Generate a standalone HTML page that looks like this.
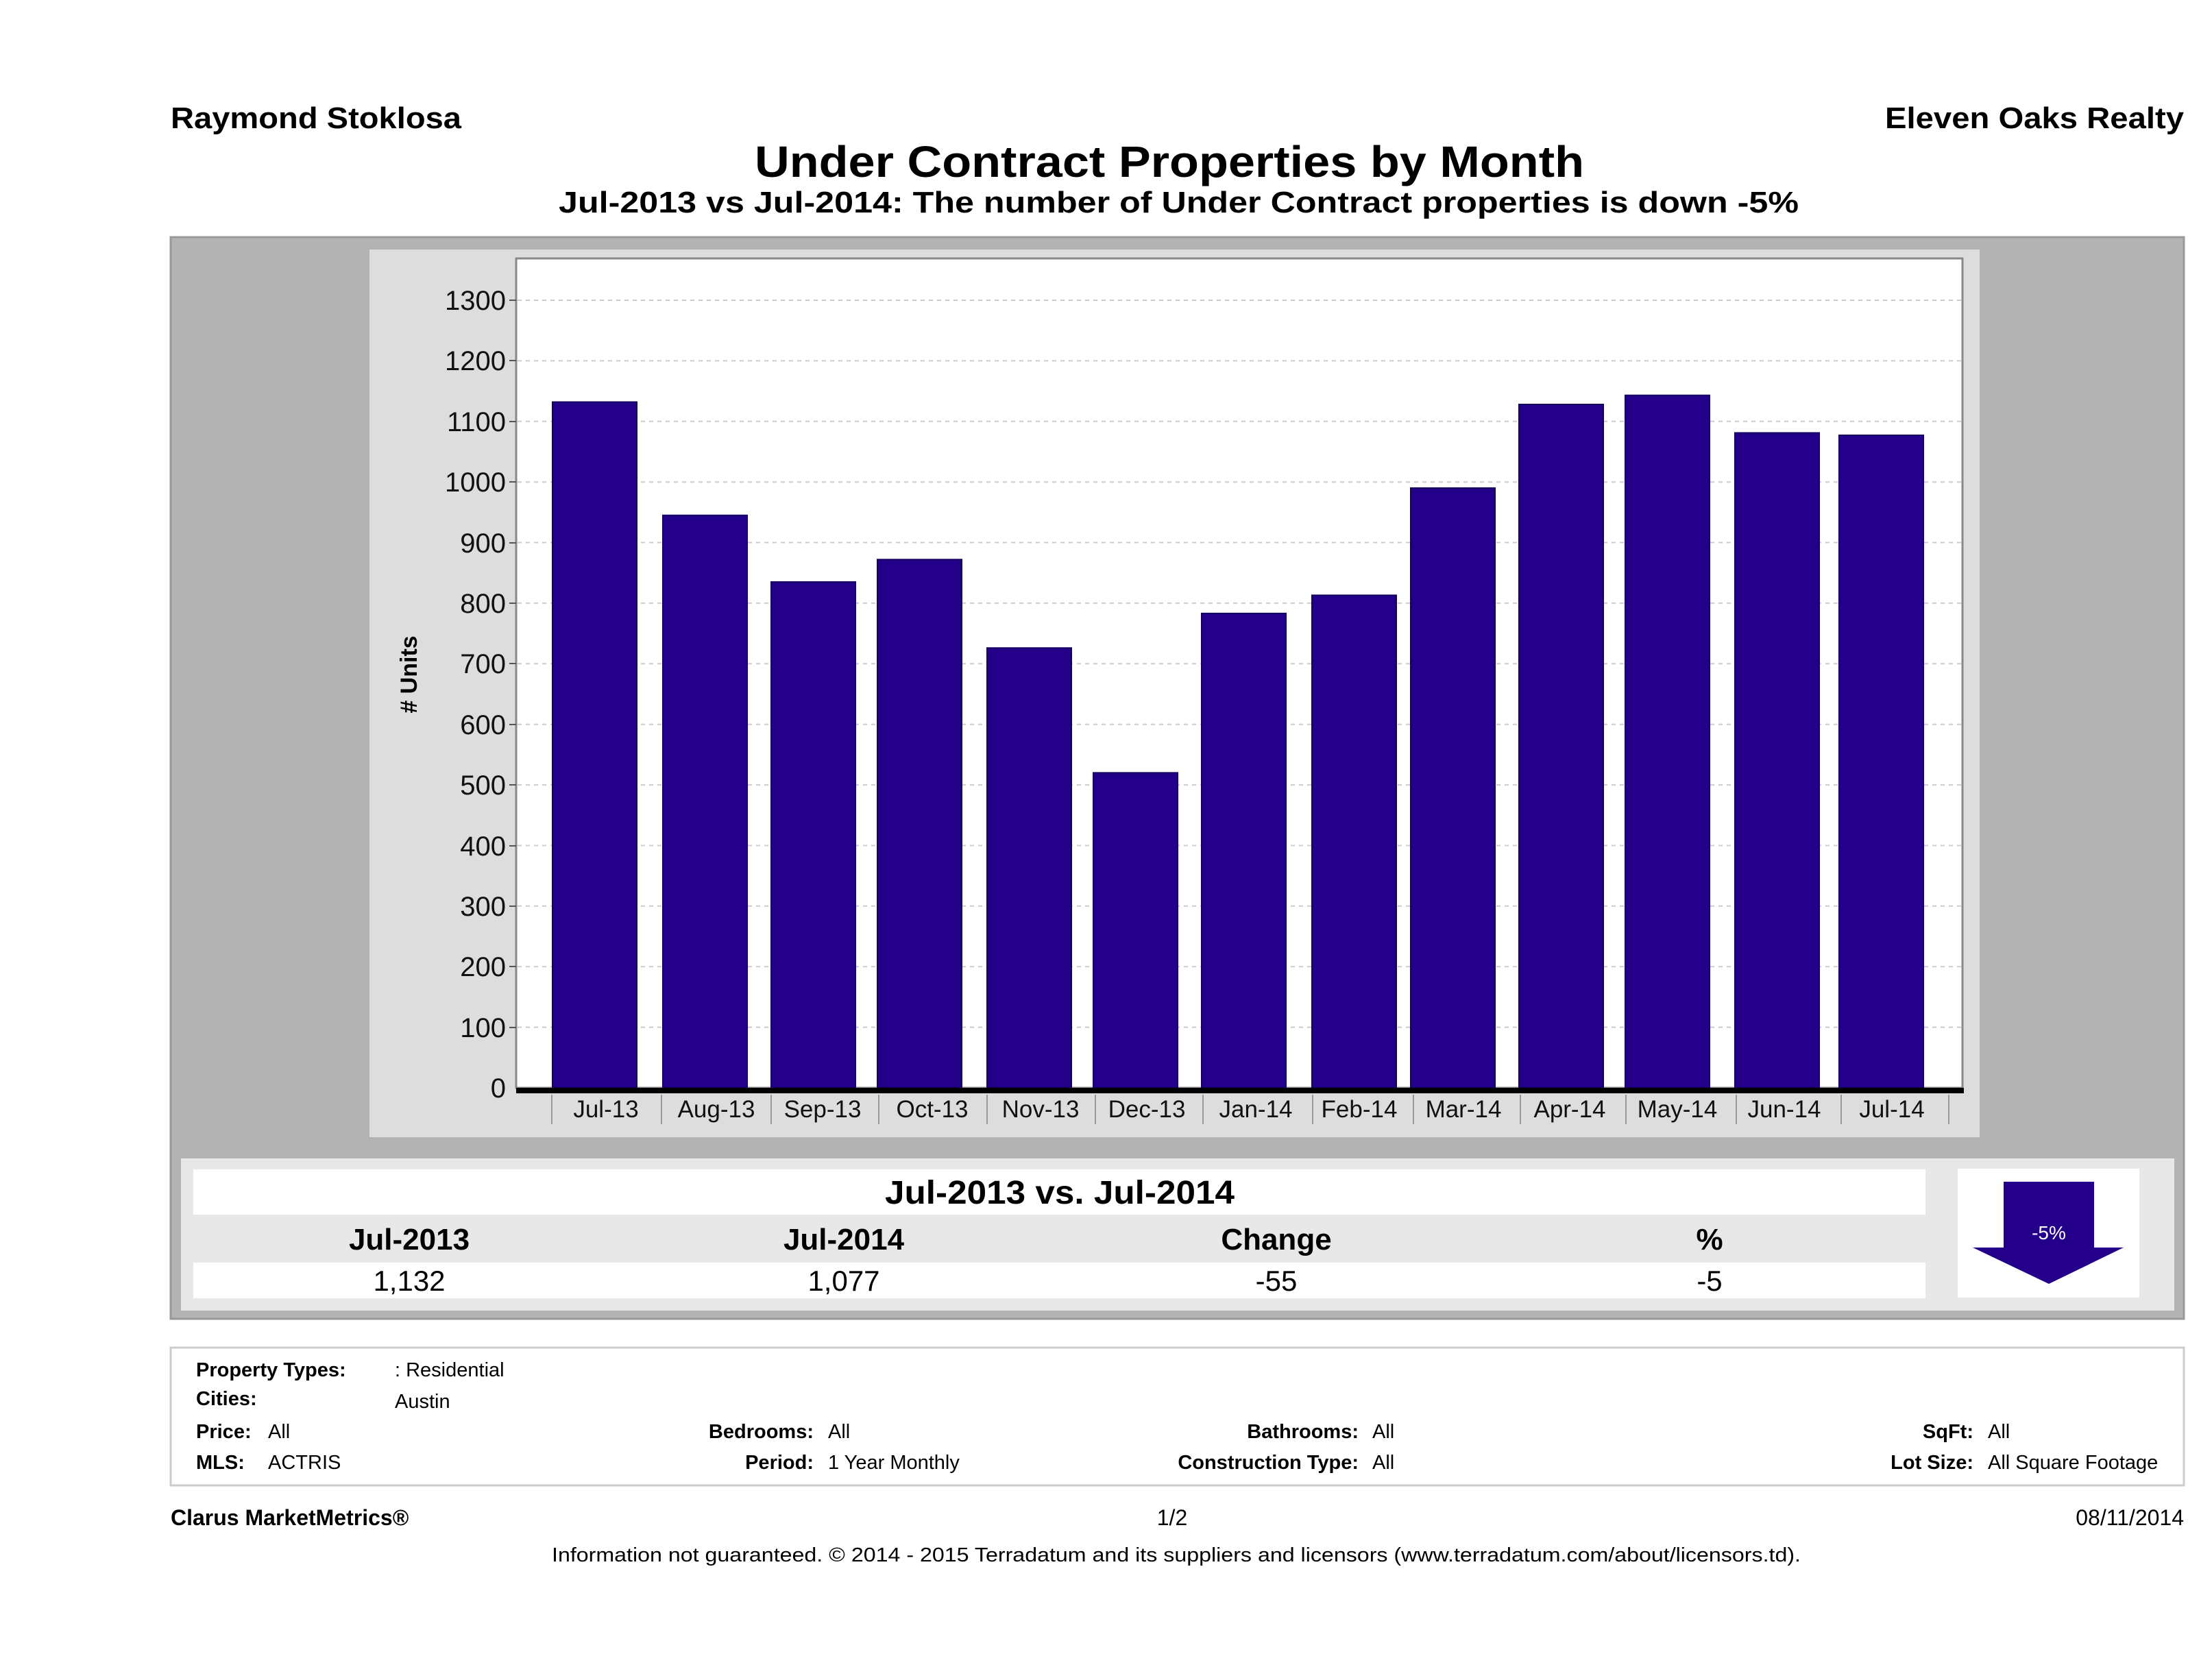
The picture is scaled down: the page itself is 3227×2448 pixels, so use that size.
<!DOCTYPE html>
<html><head><meta charset="utf-8"><style>html,body{margin:0;padding:0;background:#fff}svg{display:block}</style></head><body>
<svg width="3227" height="2448" viewBox="0 0 3227 2448" xmlns="http://www.w3.org/2000/svg" font-family="Liberation Sans, DejaVu Sans, sans-serif">
<rect width="3227" height="2448" fill="#fff"/>
<text x="249" y="187" font-size="44" font-weight="bold" textLength="424" lengthAdjust="spacingAndGlyphs">Raymond Stoklosa</text>
<text x="3186" y="187" font-size="44" font-weight="bold" text-anchor="end" textLength="436" lengthAdjust="spacingAndGlyphs">Eleven Oaks Realty</text>
<text x="1101" y="258" font-size="64" font-weight="bold" textLength="1210" lengthAdjust="spacingAndGlyphs">Under Contract Properties by Month</text>
<text x="815" y="310" font-size="44" font-weight="bold" textLength="1809" lengthAdjust="spacingAndGlyphs">Jul-2013 vs Jul-2014: The number of Under Contract  properties is down -5%</text>
<rect x="249" y="346" width="2937" height="1578" fill="#b3b3b3" stroke="#999" stroke-width="3"/>
<rect x="539" y="364" width="2349" height="1295" fill="#dddddd"/>
<rect x="753" y="377" width="2110" height="1210" fill="#fff" stroke="#888" stroke-width="3"/>
<g stroke="#ccc" stroke-width="2" stroke-dasharray="6,6">
<line x1="755" x2="2861" y1="438" y2="438"/><line x1="755" x2="2861" y1="526.4" y2="526.4"/><line x1="755" x2="2861" y1="614.8" y2="614.8"/><line x1="755" x2="2861" y1="703.2" y2="703.2"/><line x1="755" x2="2861" y1="791.5" y2="791.5"/><line x1="755" x2="2861" y1="879.9" y2="879.9"/><line x1="755" x2="2861" y1="968.3" y2="968.3"/><line x1="755" x2="2861" y1="1056.7" y2="1056.7"/><line x1="755" x2="2861" y1="1145.1" y2="1145.1"/><line x1="755" x2="2861" y1="1233.5" y2="1233.5"/><line x1="755" x2="2861" y1="1321.8" y2="1321.8"/><line x1="755" x2="2861" y1="1410.2" y2="1410.2"/><line x1="755" x2="2861" y1="1498.6" y2="1498.6"/>
</g>
<g font-size="40" text-anchor="end" fill="#111">
<text x="738" y="452">1300</text><text x="738" y="540">1200</text><text x="738" y="629">1100</text><text x="738" y="717">1000</text><text x="738" y="806">900</text><text x="738" y="894">800</text><text x="738" y="982">700</text><text x="738" y="1071">600</text><text x="738" y="1159">500</text><text x="738" y="1248">400</text><text x="738" y="1336">300</text><text x="738" y="1424">200</text><text x="738" y="1513">100</text><text x="738" y="1601">0</text>
</g>
<g stroke="#555" stroke-width="2">
<line x1="743" x2="753" y1="438" y2="438"/><line x1="743" x2="753" y1="526" y2="526"/><line x1="743" x2="753" y1="615" y2="615"/><line x1="743" x2="753" y1="703" y2="703"/><line x1="743" x2="753" y1="792" y2="792"/><line x1="743" x2="753" y1="880" y2="880"/><line x1="743" x2="753" y1="968" y2="968"/><line x1="743" x2="753" y1="1057" y2="1057"/><line x1="743" x2="753" y1="1145" y2="1145"/><line x1="743" x2="753" y1="1234" y2="1234"/><line x1="743" x2="753" y1="1322" y2="1322"/><line x1="743" x2="753" y1="1410" y2="1410"/><line x1="743" x2="753" y1="1499" y2="1499"/>
</g>
<text transform="translate(608,984) rotate(-90)" font-size="34" font-weight="bold" text-anchor="middle">#  Units</text>
<g fill="#24008a" stroke="#150060" stroke-width="2">
<rect x="806" y="586.5" width="123" height="1000.5"/>
<rect x="967" y="751.8" width="123" height="835.2"/>
<rect x="1125" y="849" width="123" height="738"/>
<rect x="1280" y="816.3" width="123" height="770.7"/>
<rect x="1440" y="945.3" width="123" height="641.7"/>
<rect x="1595" y="1127.4" width="123" height="459.6"/>
<rect x="1753" y="894.9" width="123" height="692.1"/>
<rect x="1914" y="868.4" width="123" height="718.6"/>
<rect x="2058" y="712" width="123" height="875"/>
<rect x="2216" y="590" width="123" height="997"/>
<rect x="2371" y="576.7" width="123" height="1010.3"/>
<rect x="2531" y="631.5" width="123" height="955.5"/>
<rect x="2683" y="635" width="123" height="952"/>
</g>
<rect x="753" y="1587" width="2112" height="8" fill="#000"/>
<g stroke="#999" stroke-width="2">
<line x1="805" x2="805" y1="1597" y2="1640"/><line x1="965" x2="965" y1="1597" y2="1640"/><line x1="1125" x2="1125" y1="1597" y2="1640"/><line x1="1282" x2="1282" y1="1597" y2="1640"/><line x1="1440" x2="1440" y1="1597" y2="1640"/><line x1="1598" x2="1598" y1="1597" y2="1640"/><line x1="1755" x2="1755" y1="1597" y2="1640"/><line x1="1915" x2="1915" y1="1597" y2="1640"/><line x1="2062" x2="2062" y1="1597" y2="1640"/><line x1="2218" x2="2218" y1="1597" y2="1640"/><line x1="2372" x2="2372" y1="1597" y2="1640"/><line x1="2533" x2="2533" y1="1597" y2="1640"/><line x1="2686" x2="2686" y1="1597" y2="1640"/><line x1="2843" x2="2843" y1="1597" y2="1640"/>
</g>
<g font-size="35" text-anchor="middle" fill="#111">
<text x="884" y="1630">Jul-13</text><text x="1045" y="1630">Aug-13</text><text x="1200" y="1630">Sep-13</text><text x="1360" y="1630">Oct-13</text><text x="1518" y="1630">Nov-13</text><text x="1673" y="1630">Dec-13</text><text x="1832" y="1630">Jan-14</text><text x="1983" y="1630">Feb-14</text><text x="2135" y="1630">Mar-14</text><text x="2290" y="1630">Apr-14</text><text x="2447" y="1630">May-14</text><text x="2603" y="1630">Jun-14</text><text x="2760" y="1630">Jul-14</text>
</g>
<rect x="264" y="1690" width="2908" height="222" fill="#e8e8e8"/>
<rect x="282" y="1706" width="2527" height="66" fill="#fff"/>
<rect x="282" y="1842" width="2527" height="52" fill="#fff"/>
<text x="1546" y="1756" font-size="48" font-weight="bold" text-anchor="middle" textLength="510" lengthAdjust="spacingAndGlyphs">Jul-2013 vs. Jul-2014</text>
<g font-size="44" font-weight="bold" text-anchor="middle">
<text x="597" y="1823">Jul-2013</text><text x="1231" y="1823">Jul-2014</text><text x="1862" y="1823">Change</text><text x="2494" y="1823">%</text>
</g>
<g font-size="42" text-anchor="middle">
<text x="597" y="1883">1,132</text><text x="1231" y="1883">1,077</text><text x="1862" y="1883">-55</text><text x="2494" y="1883">-5</text>
</g>
<rect x="2856" y="1705" width="265" height="188" fill="#fff"/>
<polygon points="2923,1724 3055,1724 3055,1820 3098,1820 2989,1873 2878,1820 2923,1820" fill="#24008a"/>
<text x="2989" y="1808" font-size="28" fill="#fff" text-anchor="middle">-5%</text>
<rect x="249" y="1966" width="2937" height="201" fill="#fff" stroke="#ccc" stroke-width="3"/>
<g font-size="29">
<text x="286" y="2008" font-weight="bold">Property Types:</text><text x="576" y="2008">: Residential</text>
<text x="286" y="2050" font-weight="bold">Cities:</text><text x="576" y="2054">Austin</text>
<text x="286" y="2098" font-weight="bold">Price:</text><text x="391" y="2098">All</text>
<text x="286" y="2143" font-weight="bold">MLS:</text><text x="391" y="2143">ACTRIS</text>
<text x="1187" y="2098" font-weight="bold" text-anchor="end">Bedrooms:</text><text x="1208" y="2098">All</text>
<text x="1187" y="2143" font-weight="bold" text-anchor="end">Period:</text><text x="1208" y="2143">1 Year Monthly</text>
<text x="1982" y="2098" font-weight="bold" text-anchor="end">Bathrooms:</text><text x="2002" y="2098">All</text>
<text x="1982" y="2143" font-weight="bold" text-anchor="end">Construction Type:</text><text x="2002" y="2143">All</text>
<text x="2879" y="2098" font-weight="bold" text-anchor="end">SqFt:</text><text x="2900" y="2098">All</text>
<text x="2879" y="2143" font-weight="bold" text-anchor="end">Lot Size:</text><text x="2900" y="2143">All Square Footage</text>
</g>
<text x="249" y="2225" font-size="32" font-weight="bold">Clarus MarketMetrics®</text>
<text x="1710" y="2225" font-size="32" text-anchor="middle">1/2</text>
<text x="3186" y="2225" font-size="32" text-anchor="end">08/11/2014</text>
<text x="1716" y="2278" font-size="29" text-anchor="middle" textLength="1822" lengthAdjust="spacingAndGlyphs">Information not guaranteed. © 2014 - 2015 Terradatum and its suppliers and licensors (www.terradatum.com/about/licensors.td).</text>
</svg>
</body></html>
